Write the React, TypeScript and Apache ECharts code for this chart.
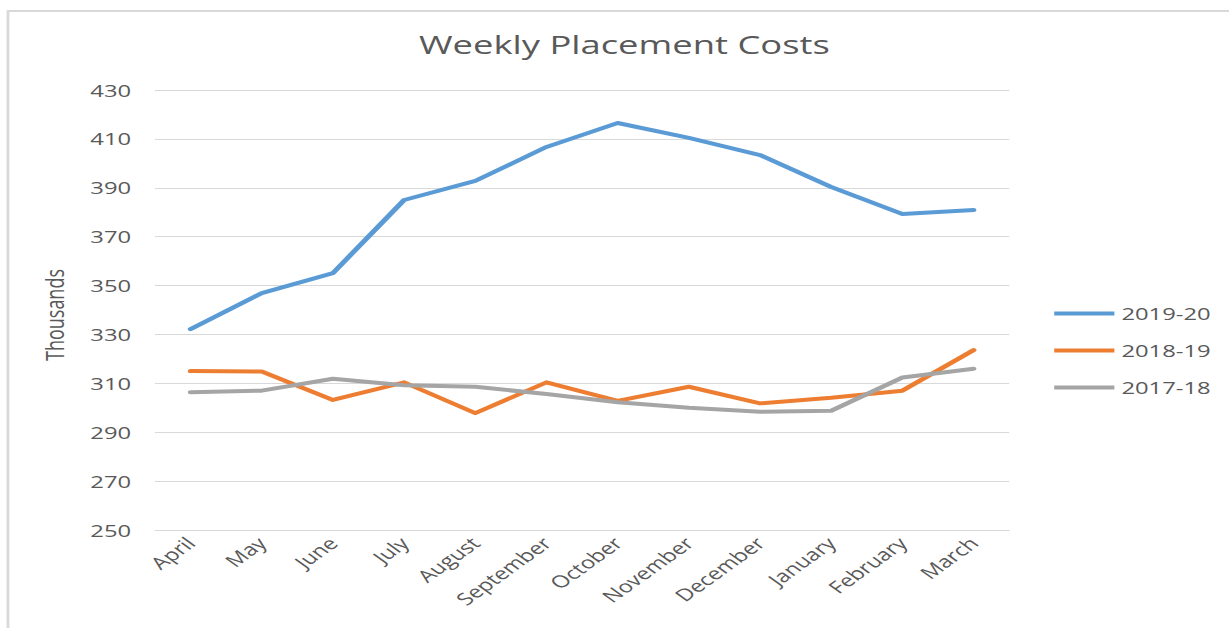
import React, { useEffect, useRef } from "react";
import * as echarts from "echarts";

const months = ["April", "May", "June", "July", "August", "September", "October", "November", "December", "January", "February", "March"];
const seriesNames = ["2019-20", "2018-19", "2017-18"];
const values2019_20 = [332.2, 346.9, 355.1, 385.0, 392.8, 406.7, 416.5, 410.4, 403.4, 390.3, 379.3, 380.9];
const values2018_19 = [315.0, 314.8, 303.2, 310.4, 297.8, 310.4, 302.8, 308.6, 301.8, 304.1, 307.0, 323.6];
const values2017_18 = [306.4, 307.0, 311.9, 309.2, 308.6, 305.6, 302.3, 300.0, 298.4, 298.8, 312.4, 316.0];
const colors = ["#5B9BD5", "#ED7D31", "#A5A5A5"];

const STRETCH = 1.4;
const W = 1229 / STRETCH;
const H = 628;
const FONT = "'Open Sans', 'Noto Sans', sans-serif";
const TEXT = "#595959";

export default function App() {
  const ref = useRef<HTMLDivElement>(null);
  useEffect(() => {
    document.body.style.margin = "0";
    document.body.style.overflow = "hidden";
    document.documentElement.style.overflow = "hidden";
    const chart = echarts.init(ref.current!, undefined, { renderer: "svg" });
    const all = [values2019_20, values2018_19, values2017_18];
    chart.setOption({
      animation: false,
      textStyle: { fontFamily: FONT },
      title: {
        text: "Weekly Placement Costs",
        left: 441,
        textAlign: "center",
        top: 26,
        textStyle: { fontFamily: FONT, fontSize: 26, fontWeight: "normal", color: TEXT },
      },
      legend: {
        orient: "vertical",
        left: 753,
        top: 305,
        padding: 0,
        icon: "rect",
        itemWidth: 43,
        itemHeight: 4,
        itemGap: 20,
        data: seriesNames,
        textStyle: { fontFamily: FONT, fontSize: 17, color: TEXT },
      },
      grid: { left: 110.7, right: W - 720.7, top: 90, bottom: 98, containLabel: false },
      xAxis: {
        type: "category",
        data: months,
        boundaryGap: true,
        axisLine: { lineStyle: { color: "#D9D9D9", width: 1 } },
        axisTick: { show: false },
        axisLabel: { rotate: 45, fontFamily: FONT, fontSize: 17, color: TEXT, margin: 10, interval: 0 },
      },
      yAxis: {
        type: "value",
        min: 250,
        max: 430,
        interval: 20,
        name: "Thousands",
        nameLocation: "middle",
        nameGap: 63,
        nameRotate: 90,
        nameTextStyle: { fontFamily: FONT, fontSize: 18, color: TEXT, padding: [0, 10, 0, 0] },
        axisLine: { show: false },
        axisTick: { show: false },
        axisLabel: { fontFamily: FONT, fontSize: 17, color: TEXT, margin: 17 },
        splitLine: { lineStyle: { color: "#D9D9D9", width: 1 } },
      },
      graphic: [
        {
          type: "rect",
          shape: { x: 5.7, y: 11, width: 2000, height: 2000 },
          style: { fill: "none", stroke: "#D9D9D9", lineWidth: 2 },
          silent: true,
        },
      ],
      series: seriesNames.map((name, i) => ({
        name,
        type: "line",
        data: all[i],
        symbol: "none",
        showSymbol: false,
        color: colors[i],
        lineStyle: { color: colors[i], width: 4, cap: "round", join: "round" },
      })),
    });
    return () => chart.dispose();
  }, []);
  return (
    <div style={{ width: 1229, height: H, overflow: "hidden", position: "relative" }}>
      <div
        ref={ref}
        style={{
          width: W,
          height: H,
          transform: `scaleX(${STRETCH})`,
          transformOrigin: "0 0",
          position: "absolute",
          left: 0,
          top: 0,
        }}
      />
    </div>
  );
}
